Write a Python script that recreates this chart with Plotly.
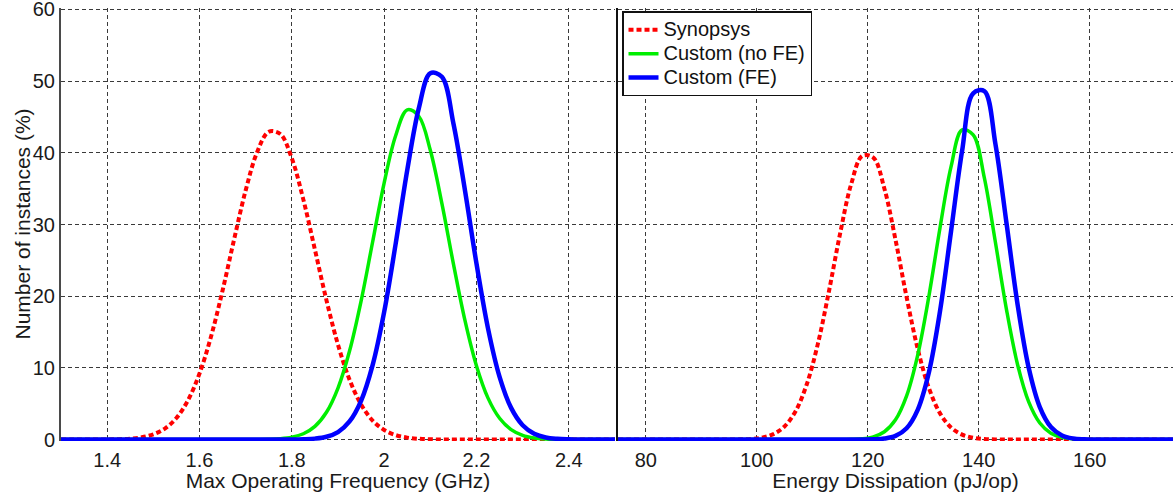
import plotly.graph_objects as go

# ---- data ----
freq_ghz = [1.300, 1.325, 1.350, 1.375, 1.400, 1.425, 1.450, 1.475, 1.500, 1.525,
            1.550, 1.575, 1.600, 1.625, 1.650, 1.675, 1.700, 1.725, 1.750, 1.775,
            1.800, 1.825, 1.850, 1.875, 1.900, 1.925, 1.950, 1.975, 2.000, 2.025,
            2.050, 2.075, 2.100, 2.125, 2.150, 2.175, 2.200, 2.225, 2.250, 2.275,
            2.300, 2.325, 2.350, 2.375, 2.400, 2.425, 2.450, 2.475, 2.500]

freq_synopsys = [0, 0, 0, 0.01, 0.02, 0.05, 0.13, 0.32, 0.73, 1.54,
                 3.01, 5.47, 9.21, 14.37, 20.80, 27.93, 34.76, 40.12, 42.94, 42.62,
                 39.22, 33.47, 26.49, 19.44, 13.23, 8.35, 4.89, 2.65, 1.33, 0.62,
                 0.27, 0.11, 0.04, 0.01, 0, 0, 0, 0, 0, 0,
                 0, 0, 0, 0, 0, 0, 0, 0, 0]

freq_custom_nofe = [0, 0, 0, 0, 0, 0, 0, 0, 0, 0,
                    0, 0, 0, 0, 0, 0, 0, 0.01, 0.04, 0.12,
                    0.33, 0.81, 1.84, 3.81, 7.19, 12.35, 19.32, 27.56, 35.82, 42.42,
                    46.00, 45.10, 40.35, 32.95, 24.51, 16.62, 10.27, 5.78, 2.97, 1.39,
                    0.59, 0.23, 0.08, 0.03, 0, 0, 0, 0, 0]

freq_custom_fe = [0, 0, 0, 0, 0, 0, 0, 0, 0, 0,
                  0, 0, 0, 0, 0, 0, 0, 0, 0, 0,
                  0, 0.04, 0.13, 0.39, 1.05, 2.53, 5.41, 10.38, 17.81, 27.35,
                  37.58, 46.20, 51.10, 50.60, 44.09, 34.76, 24.53, 15.48, 8.75, 4.42,
                  2.00, 0.81, 0.29, 0.10, 0.03, 0, 0, 0, 0]

energy_pj = [75, 77, 79, 81, 83, 85, 87, 89, 91, 93,
             95, 97, 99, 101, 103, 105, 107, 109, 111, 113,
             115, 117, 119, 121, 123, 125, 127, 129, 131, 133,
             135, 137, 139, 141, 143, 145, 147, 149, 151, 153,
             155, 157, 159, 161, 163, 165, 167, 169, 171, 173, 175]

energy_synopsys = [0, 0, 0, 0, 0, 0, 0, 0, 0, 0,
                   0.01, 0.03, 0.09, 0.28, 0.76, 1.83, 3.96, 7.68, 13.31, 20.65,
                   28.66, 35.59, 39.55, 39.33, 35.00, 27.87, 19.86, 12.66, 7.23, 3.69,
                   1.69, 0.69, 0.25, 0.08, 0.02, 0.01, 0, 0, 0, 0,
                   0, 0, 0, 0, 0, 0, 0, 0, 0, 0, 0]

energy_custom_nofe = [0, 0, 0, 0, 0, 0, 0, 0, 0, 0,
                      0, 0, 0, 0, 0, 0, 0, 0, 0, 0,
                      0, 0.03, 0.11, 0.38, 1.09, 2.75, 6.09, 11.78, 19.92, 29.45,
                      38.03, 43.20, 42.50, 36.53, 27.53, 18.13, 10.44, 5.25, 2.31, 0.89,
                      0.30, 0.09, 0.02, 0, 0, 0, 0, 0, 0, 0, 0]

energy_custom_fe = [0, 0, 0, 0, 0, 0, 0, 0, 0, 0,
                    0, 0, 0, 0, 0, 0, 0, 0, 0, 0,
                    0, 0, 0, 0.03, 0.14, 0.51, 1.58, 4.15, 9.32, 17.81,
                    29.01, 40.27, 48.30, 48.60, 41.25, 30.19, 18.83, 10.01, 4.53, 1.75,
                    0.58, 0.16, 0.04, 0, 0, 0, 0, 0, 0, 0, 0]

series_names = ["Synopsys", "Custom (no FE)", "Custom (FE)"]
freq_ticks = [1.4, 1.6, 1.8, 2.0, 2.2, 2.4]
freq_ticktext = ["1.4", "1.6", "1.8", "2", "2.2", "2.4"]
energy_ticks = [80, 100, 120, 140, 160]
y_ticks = [0, 10, 20, 30, 40, 50, 60]

# ---- styles ----
FONT = "Liberation Sans, Arial, Helvetica, sans-serif"
styles = [
    dict(color="#ff0000", width=4, dash="5px,3px"),
    dict(color="#00ee00", width=3.5, dash="solid"),
    dict(color="#0000ff", width=4.5, dash="solid"),
]

fig = go.Figure()
left = [freq_synopsys, freq_custom_nofe, freq_custom_fe]
right = [energy_synopsys, energy_custom_nofe, energy_custom_fe]
for name, ys, st in zip(series_names, left, styles):
    fig.add_trace(go.Scatter(x=freq_ghz, y=ys,
                             name='<span style="font-size:20px">%s</span>' % name,
                             mode="lines",
                             line=dict(shape="spline", smoothing=1.0, **st),
                             xaxis="x", yaxis="y"))
for name, ys, st in zip(series_names, right, styles):
    fig.add_trace(go.Scatter(x=energy_pj, y=ys, name=name, mode="lines",
                             line=dict(shape="spline", smoothing=1.0, **st),
                             xaxis="x2", yaxis="y2", showlegend=False))

grid = dict(showgrid=True, gridcolor="#3a3a3a", gridwidth=1, griddash="4px,3px",
            zeroline=False, automargin=False)

fig.update_layout(
    width=1176, height=492,
    margin=dict(l=61, r=3, t=7.5, b=50.5, autoexpand=False),
    paper_bgcolor="white", plot_bgcolor="white",
    font=dict(family=FONT, size=20, color="#1a1a1a"),
    showlegend=True,
    legend=dict(x=0.5045, y=0.992, xanchor="left", yanchor="top",
                bgcolor="white", bordercolor="#111111", borderwidth=1.5,
                font=dict(size=16, family=FONT, color="#111111"),
                itemwidth=30, tracegroupgap=0),
    xaxis=dict(domain=[0, 0.4982], range=[1.3, 2.5], anchor="y",
               tickmode="array", tickvals=freq_ticks, ticktext=freq_ticktext,
               showline=False, ticks="", ticklabelstandoff=5,
               title=dict(text="Max Operating Frequency (GHz)", font=dict(size=21), standoff=4),
               **grid),
    yaxis=dict(domain=[0, 1], range=[-0.2, 60.2], anchor="x",
               tickmode="array", tickvals=y_ticks, ticklabeloverflow="allow",
               showline=True, linecolor="#4a4a4a", linewidth=2, ticks="",
               **grid),
    xaxis2=dict(domain=[0.5009, 1], range=[75, 175], anchor="y2",
                tickmode="array", tickvals=energy_ticks,
                showline=False, ticks="", ticklabelstandoff=5,
                title=dict(text="Energy Dissipation (pJ/op)", font=dict(size=21), standoff=4),
                **grid),
    yaxis2=dict(domain=[0, 1], range=[-0.2, 60.2], anchor="x2",
                tickmode="array", tickvals=y_ticks, showticklabels=False,
                showline=True, linecolor="#111111", linewidth=1.5, ticks="",
                **grid),
    annotations=[dict(text="Number of instances (%)", xref="paper", yref="paper",
                      x=(22 - 61) / 1112, y=0.5, xanchor="center", yanchor="middle",
                      textangle=-90, showarrow=False, font=dict(size=21))],
)

fig.write_html("out.html")
